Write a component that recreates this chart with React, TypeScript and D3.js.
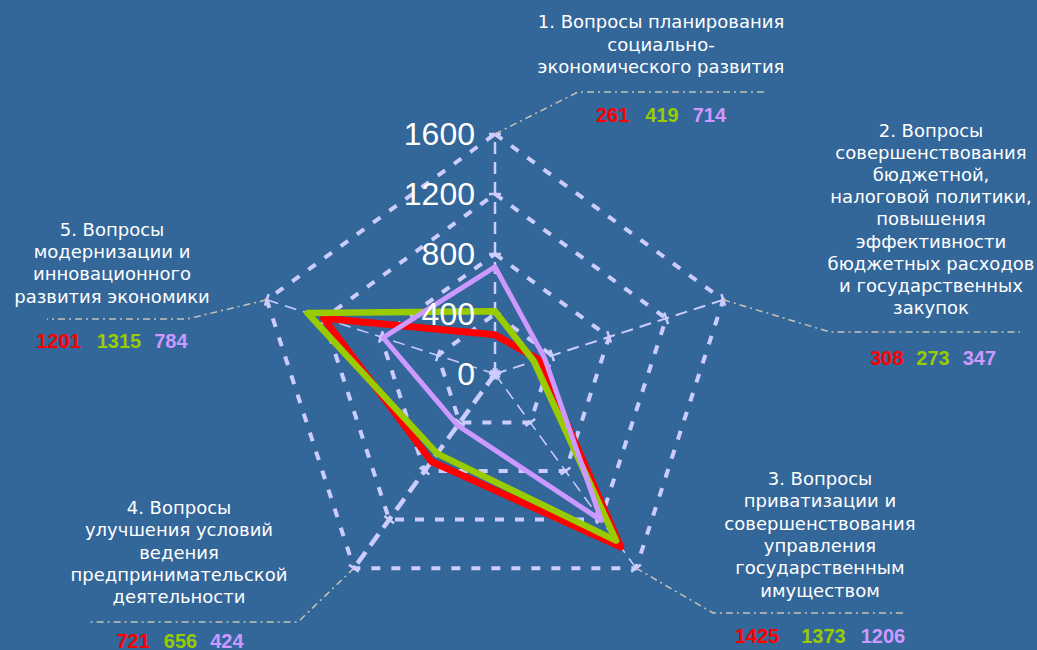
import React from "react";
import * as d3 from "d3";

const categoryLines: string[][] = [
  ["1. Вопросы планирования", "социально-", "экономического развития"],
  ["2. Вопросы", "совершенствования", "бюджетной,", "налоговой политики,", "повышения", "эффективности", "бюджетных расходов", "и государственных", "закупок"],
  ["3. Вопросы", "приватизации и", "совершенствования", "управления", "государственным", "имуществом"],
  ["4. Вопросы", "улучшения условий", "ведения", "предпринимательской", "деятельности"],
  ["5. Вопросы", "модернизации и", "инновационного", "развития экономики"],
];
const seriesRed = [261, 308, 1425, 721, 1201];
const seriesGreen = [419, 273, 1373, 656, 1315];
const seriesPurple = [714, 347, 1206, 424, 784];
const tickValues = [0, 400, 800, 1200, 1600];

const W = 1037, H = 650;
const CX = 495, CY = 374, R = 240;
const BG = "#336699";
const GRID = "#ccccff";
const LEADER = "#c8c3b8";

const seriesList = [
  { values: seriesRed, color: "#ff0000", width: 7 },
  { values: seriesGreen, color: "#99cc00", width: 6.5 },
  { values: seriesPurple, color: "#cc99ff", width: 5 },
];

// label layout per axis
const layout = [
  { x: 661, y0: 28, lh: 22.5, leader: [[0, 0], [578, 92], [768, 92]], vy: 122, vx: 661, gaps: [16, 14] },
  { x: 931, y0: 137, lh: 22.1, leader: [[0, 0], [830, 332], [1020, 332]], vy: 365, vx: 933, gaps: [13, 13] },
  { x: 820, y0: 485, lh: 22.3, leader: [[0, 0], [713, 613], [905, 613]], vy: 643, vx: 820, gaps: [22, 15] },
  { x: 179, y0: 514, lh: 22.3, leader: [[0, 0], [298, 622], [88, 622]], vy: 648, vx: 180, gaps: [14, 13] },
  { x: 112, y0: 236, lh: 22.2, leader: [[0, 0], [187, 319], [47, 319]], vy: 348, vx: 112, gaps: [17, 13] },
];

export default function App() {
  const n = categoryLines.length;
  const r = d3.scaleLinear().domain([0, 1600]).range([0, R]);
  const ang = (i: number) => (i * 2 * Math.PI) / n;
  const pt = (i: number, v: number): [number, number] => [
    CX + r(v) * Math.sin(ang(i)),
    CY - r(v) * Math.cos(ang(i)),
  ];
  const line = d3.line<[number, number]>().curve(d3.curveLinearClosed);

  const axisStyles = [
    { w: 2.5, dash: "12 8" },
    { w: 2, dash: "12 7" },
    { w: 1.5, dash: "12 7" },
    { w: 4.5, dash: "14 8" },
    { w: 1.5, dash: "12 7" },
  ];

  return (
    <svg width={W} height={H} style={{ position: "absolute", left: 0, top: 0, background: BG }}>
      <rect x={0} y={0} width={W} height={H} fill={BG} />
      {tickValues.filter((t) => t > 0).map((t) => (
        <path
          key={"g" + t}
          d={line(d3.range(n).map((i) => pt(i, t))) || ""}
          fill="none"
          stroke={GRID}
          strokeWidth={4}
          strokeDasharray="9 11"
        />
      ))}
      {d3.range(n).map((i) => {
        const [x, y] = pt(i, 1600);
        return (
          <line key={"a" + i} x1={CX} y1={CY} x2={x} y2={y} stroke={GRID}
            strokeWidth={axisStyles[i].w} strokeDasharray={axisStyles[i].dash} />
        );
      })}
      {d3.range(n).map((i) =>
        tickValues.map((t) => {
          const [x, y] = pt(i, t);
          const a = ang(i);
          const px = Math.cos(a) * 6, py = Math.sin(a) * 6;
          return (
            <line key={"t" + i + "-" + t} x1={x - px} y1={y - py} x2={x + px} y2={y + py}
              stroke={GRID} strokeWidth={2.5} />
          );
        })
      )}
      {layout.map((L, i) => {
        const v = pt(i, 1600);
        const pts = [v, L.leader[1], L.leader[2]] as [number, number][];
        return (
          <path key={"l" + i} d={d3.line()(pts) || ""} fill="none" stroke={LEADER}
            strokeWidth={1.5} strokeDasharray="7 4 2 4" />
        );
      })}
      {seriesList.map((s, k) => (
        <path key={"s" + k}
          d={line(s.values.map((v, i) => pt(i, v))) || ""}
          fill="none" stroke={s.color} strokeWidth={s.width} strokeLinejoin="round" />
      ))}
      {tickValues.map((t) => (
        <text key={"tl" + t} x={475} y={CY - r(t) + 11} textAnchor="end"
          fontFamily="'Liberation Sans', Arial, sans-serif" fontSize={32} fill="#ffffff">
          {t}
        </text>
      ))}
      {categoryLines.map((lines, i) => (
        <text key={"c" + i} textAnchor="middle" fontFamily="'DejaVu Sans', Verdana, sans-serif"
          fontSize={18} fill="#ffffff">
          {lines.map((ln, j) => (
            <tspan key={j} x={layout[i].x} y={layout[i].y0 + j * layout[i].lh}>{ln}</tspan>
          ))}
        </text>
      ))}
      {layout.map((L, i) => (
        <text key={"v" + i} x={L.vx} y={L.vy} textAnchor="middle"
          fontFamily="'Liberation Sans', Arial, sans-serif" fontWeight="bold" fontSize={20}>
          <tspan fill={seriesList[0].color}>{seriesRed[i]}</tspan>
          <tspan fill={seriesList[1].color} dx={L.gaps[0]}>{seriesGreen[i]}</tspan>
          <tspan fill={seriesList[2].color} dx={L.gaps[1]}>{seriesPurple[i]}</tspan>
        </text>
      ))}
    </svg>
  );
}
